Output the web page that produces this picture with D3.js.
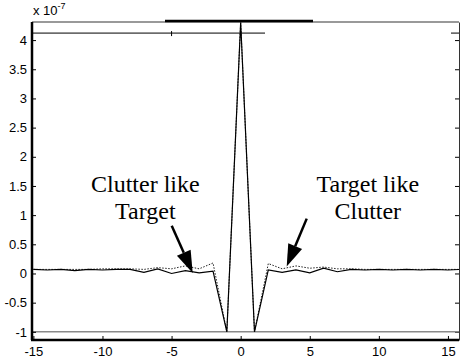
<!DOCTYPE html>
<html>
<head>
<meta charset="utf-8">
<script src="https://cdn.jsdelivr.net/npm/d3@7"></script>
<style>
  body { margin: 0; background: #fff; }
  svg { display: block; }
  .tick text { font-family: "Liberation Sans", Arial, sans-serif; font-size: 13px; fill: #000; }
  .note { font-family: "Liberation Serif", "Times New Roman", serif; font-size: 24px; fill: #000; }
</style>
</head>
<body>
<script>
// lag index
var lags = d3.range(-15, 17);
// solid curve (x 1e-7)
var solidVals = [0.07, 0.06, 0.07, 0.05, 0.07, 0.06, 0.07, 0.07, 0.02, 0.08, 0.00, 0.05, 0.01, 0.04, -1, 4.3,
                 -1, 0.06, 0.02, 0.06, 0.01, 0.09, 0.03, 0.07, 0.06, 0.07, 0.06, 0.07, 0.06, 0.07, 0.06, 0.07];
// dotted curve (x 1e-7)
var dottedVals = [0.07, 0.07, 0.07, 0.07, 0.07, 0.08, 0.08, 0.08, 0.07, 0.10, 0.08, 0.13, 0.08, 0.18, -1, 4.3,
                  -1, 0.17, 0.08, 0.13, 0.09, 0.11, 0.08, 0.08, 0.07, 0.07, 0.07, 0.07, 0.07, 0.07, 0.07, 0.07];
var xTicks = [-15, -10, -5, 0, 5, 10, 15];
var yTicks = [-1, -0.5, 0, 0.5, 1, 1.5, 2, 2.5, 3, 3.5, 4];

var W = 461, H = 364;
var margin = { left: 32, right: 459, top: 22, bottom: 340 };

var svg = d3.select("body").append("svg")
    .attr("width", W)
    .attr("height", H);

var x = d3.scaleLinear().domain([-15.1, 15.8]).range([margin.left, margin.right]);
var y = d3.scaleLinear().domain([-1.14, 4.31]).range([margin.bottom, margin.top]);

svg.append("clipPath").attr("id", "clip")
  .append("rect")
    .attr("x", margin.left).attr("y", margin.top - 2)
    .attr("width", margin.right - margin.left).attr("height", margin.bottom - margin.top + 2);

// top frame line
svg.append("line")
    .attr("x1", margin.left).attr("x2", margin.right)
    .attr("y1", margin.top).attr("y2", margin.top)
    .style("stroke", "#777").style("stroke-width", 1.5);

// stray thick segment on the top edge
svg.append("line")
    .attr("x1", 165).attr("x2", 313)
    .attr("y1", margin.top - 1).attr("y2", margin.top - 1)
    .style("stroke", "#000").style("stroke-width", 2.5);

// second partial line near the top
var y2 = y(4.12);
svg.append("line")
    .attr("x1", margin.left).attr("x2", 265)
    .attr("y1", y2).attr("y2", y2)
    .style("stroke", "#000").style("stroke-width", 1);
[-5, 0].forEach(function(v) {
  svg.append("line")
      .attr("x1", x(v)).attr("x2", x(v))
      .attr("y1", y2 - 2).attr("y2", y2 + 3)
      .style("stroke", "#000");
});
svg.append("line")
    .attr("x1", margin.right - 8).attr("x2", margin.right)
    .attr("y1", y2).attr("y2", y2)
    .style("stroke", "#000");

// right axis (ticks only)
var rAxis = svg.append("g")
    .attr("transform", "translate(" + margin.right + ",0)")
    .call(d3.axisLeft(y).tickValues(yTicks).tickSize(4).tickSizeOuter(0).tickFormat(""));
rAxis.select(".domain").style("stroke", "#333");

// gray line at -1
svg.append("line")
    .attr("x1", margin.left).attr("x2", margin.right)
    .attr("y1", y(-1)).attr("y2", y(-1))
    .style("stroke", "#8a8a8a").style("stroke-width", 1.5);

var line = d3.line()
    .x(function(d) { return x(d[0]); })
    .y(function(d) { return y(d[1]); });

var plot = svg.append("g").attr("clip-path", "url(#clip)");

plot.append("path")
    .datum(lags.map(function(l, i) { return [l, dottedVals[i]]; }))
    .attr("d", line)
    .style("fill", "none")
    .style("stroke", "#222")
    .style("stroke-width", 1)
    .style("stroke-dasharray", "1.5,1.5");

plot.append("path")
    .datum(lags.map(function(l, i) { return [l, solidVals[i]]; }))
    .attr("d", line)
    .style("fill", "none")
    .style("stroke", "#000")
    .style("stroke-width", 1.2);

// left axis
var lAxis = svg.append("g")
    .attr("transform", "translate(" + margin.left + ",0)")
    .call(d3.axisLeft(y).tickValues(yTicks).tickSize(-4).tickSizeOuter(0).tickPadding(5)
      .tickFormat(function(d) { return d; }));
lAxis.select(".domain").attr("d", "M0," + margin.top + "V" + margin.bottom).style("stroke-width", 2.5);

// bottom axis
var bAxis = svg.append("g")
    .attr("transform", "translate(0," + margin.bottom + ")")
    .call(d3.axisBottom(x).tickValues(xTicks).tickSize(-4).tickSizeOuter(0).tickPadding(7)
      .tickFormat(function(d) { return d; }));
bAxis.select(".domain").attr("d", "M" + (margin.left - 1) + ",0H" + margin.right).style("stroke-width", 2.5);

// exponent label
var expo = svg.append("text")
    .attr("x", margin.left + 1).attr("y", 15)
    .style("font-family", "Liberation Sans, Arial, sans-serif")
    .style("font-size", "13px");
expo.append("tspan").text("x 10");
expo.append("tspan").attr("dy", -6).style("font-size", "9px").text("-7");

// annotations
var notes = [
  { lines: ["Clutter like", "Target"], cx: -6.9, from: [-4.99, 0.82], to: [-3.47, 0.01] },
  { lines: ["Target like", "Clutter"], cx: 9.2, from: [4.78, 0.94], to: [3.33, 0.12] }
];

notes.forEach(function(n) {
  n.lines.forEach(function(t, i) {
    svg.append("text")
        .attr("class", "note")
        .attr("x", x(n.cx))
        .attr("y", 192 + i * 27)
        .attr("text-anchor", "middle")
        .text(t);
  });
  var x0 = x(n.from[0]), y0 = y(n.from[1]);
  var x1 = x(n.to[0]), y1 = y(n.to[1]);
  var dx = x1 - x0, dy = y1 - y0, len = Math.sqrt(dx * dx + dy * dy);
  var ux = dx / len, uy = dy / len;
  var hl = 22, hw = 7.5;
  var bx = x1 - ux * hl, by = y1 - uy * hl;
  svg.append("line")
      .attr("x1", x0).attr("y1", y0)
      .attr("x2", bx).attr("y2", by)
      .style("stroke", "#000").style("stroke-width", 2.5);
  svg.append("path")
      .attr("d", "M" + x1 + "," + y1 +
                 "L" + (bx - uy * hw) + "," + (by + ux * hw) +
                 "L" + (bx + uy * hw) + "," + (by - ux * hw) + "Z")
      .style("fill", "#000");
});
</script>
</body>
</html>
